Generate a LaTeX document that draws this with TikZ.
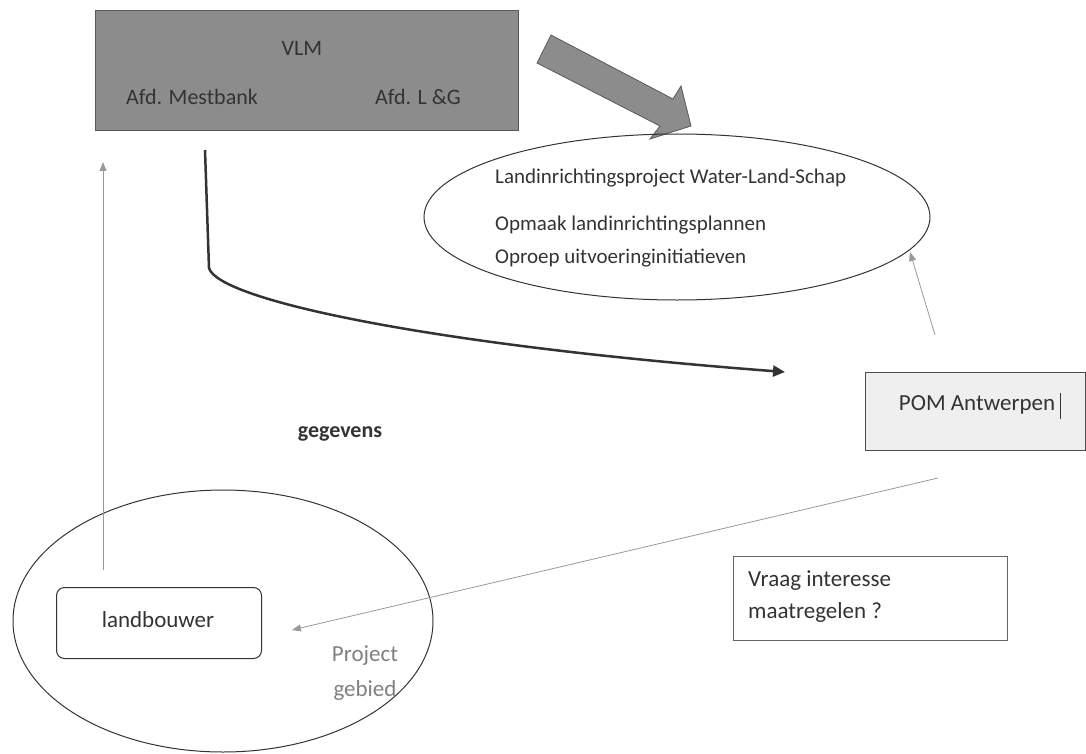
\documentclass[tikz,border=0pt]{standalone}
\usepackage{fontspec}
\setmainfont{Carlito}
\usetikzlibrary{arrows.meta,shapes.geometric}
\definecolor{boxgray}{HTML}{8C8C8C}
\definecolor{txt}{HTML}{333333}
\definecolor{linegray}{HTML}{999999}
\definecolor{pomfill}{HTML}{EFEFEF}
\tikzset{
  lbl/.style={text=txt,font=\fontsize{23}{27}\selectfont,inner sep=0pt},
  thinarrow/.style={draw=linegray,line width=0.8pt,-{Triangle[length=9pt,width=7pt]}},
  ovalnode/.style={ellipse,draw=txt,line width=1pt,inner sep=0pt},
}
\begin{document}
\begin{tikzpicture}[x=1pt,y=-1pt]
\useasboundingbox (0,0) rectangle (1086,754);
% VLM box
\node[draw=black!65,fill=boxgray,line width=1pt,minimum width=423pt,minimum height=120pt,anchor=north west,inner sep=0pt] (vlm) at (95,10) {};
\node[lbl,font=\fontsize{22}{26}\selectfont] (vlmt) at (302,48) {VLM};
\node[lbl,font=\fontsize{22}{26}\selectfont] (mest) at (192,97) {Afd. Mestbank};
\node[lbl,font=\fontsize{22}{26}\selectfont] (lg) at (418,97) {Afd. L \&G};
% big block arrow
\filldraw[fill=boxgray,draw=black!65,line width=0.8pt]
  (551,35) -- (673,99) -- (681,86) -- (691,126) -- (650,139) -- (660,126) -- (537,63) -- cycle;
% top ellipse
\node[ovalnode,minimum width=506pt,minimum height=166pt] (proj) at (677,217) {};
\node[lbl,anchor=west,font=\fontsize{21}{25}\selectfont] (l1) at (495,178) {Landinrichtingsproject Water-Land-Schap};
\node[lbl,anchor=west,font=\fontsize{21}{25}\selectfont] (l2) at (495,225) {Opmaak landinrichtingsplannen};
\node[lbl,anchor=west,font=\fontsize{21}{25}\selectfont] (l3) at (495,258) {Oproep uitvoeringinitiatieven};
% POM box
\node[draw=black!70,fill=pomfill,line width=1pt,minimum width=220pt,minimum height=78pt,anchor=north west,inner sep=0pt] (pom) at (865,372) {};
\node[lbl] (pomt) at (977,405) {POM Antwerpen};
\coordinate (cur1) at (1060,393);
\coordinate (cur2) at (1060,419);
\draw[black!80,line width=1pt] (cur1) -- (cur2);
% gegevens
\node[lbl,font=\bfseries\fontsize{22}{26}\selectfont] (geg) at (340,434) {gegevens};
% bottom ellipse
\node[ovalnode,minimum width=420pt,minimum height=262pt] (gebied) at (223,621) {};
\node[draw=txt,line width=1pt,rounded corners=8pt,minimum width=205pt,minimum height=71pt,inner sep=0pt] (boer) at (159,623) {};
\node[lbl] (boert) at (158,620) {landbouwer};
\node[lbl,text=black!50,align=center,font=\fontsize{23}{35}\selectfont] (pg) at (365,673) {Project\\gebied};
% Vraag box
\node[draw=black!60,line width=0.8pt,minimum width=274pt,minimum height=84pt,anchor=north west,inner sep=0pt] (vraag) at (733,556) {};
\node[lbl,anchor=west,align=left,font=\fontsize{23}{32}\selectfont] (vraagt) at (748,597) {Vraag interesse\\maatregelen ?};
% connectors
\coordinate (c1) at (205,150);
\coordinate (c2) at (785,372);
\draw[black!80,line width=2.5pt,-{Triangle[length=12pt,width=11pt]}] (c1) -- (209,268) .. controls (218,300) and (430,345) .. (c2);
\coordinate (p1) at (935,335);
\coordinate (p2) at (910,252);
\draw[thinarrow] (p1) -- (p2);
\coordinate (q1) at (938,478);
\coordinate (q2) at (292,630);
\draw[thinarrow] (q1) -- (q2);
\coordinate (r1) at (103,570);
\coordinate (r2) at (103,162);
\draw[thinarrow] (r1) -- (r2);
\end{tikzpicture}
\end{document}
